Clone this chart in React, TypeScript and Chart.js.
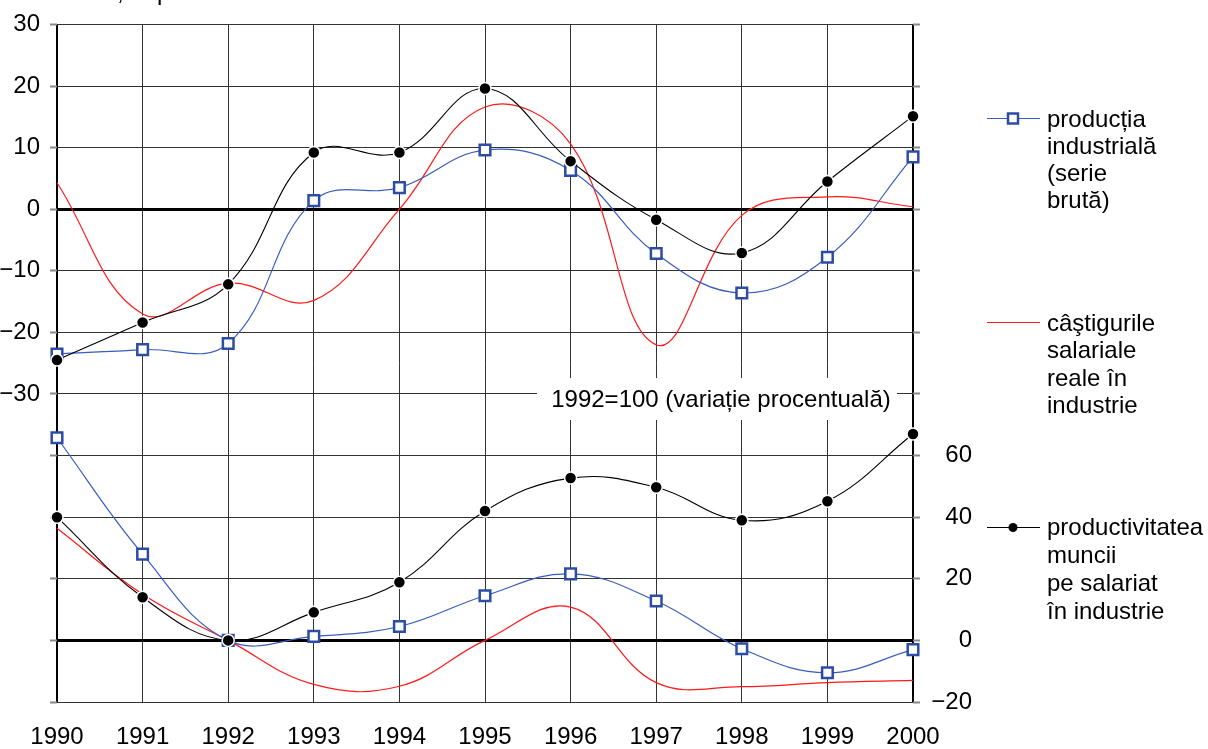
import React, { useEffect, useRef } from "react";
import { Chart, registerables } from "chart.js";

Chart.register(...registerables);

// ---- data ----
const years = ["1990", "1991", "1992", "1993", "1994", "1995", "1996", "1997", "1998", "1999", "2000"];

// upper panel: annual % change
const industrialTop = [-23.5, -22.8, -21.8, 1.4, 3.5, 9.6, 6.3, -7.2, -13.6, -7.8, 8.5];
const productivityTop = [-24.5, -18.4, -12.2, 9.2, 9.2, 19.6, 7.8, -1.7, -7.1, 4.5, 15.1];
const wagesTop = [4.3, -17.0, -12.0, -14.8, 0.0, 16.6, 10.6, -22.0, -1.0, 2.0, 0.4];

// lower panel: 1992 = 100 (% variation)
const industrialBottom = [65.8, 28.0, 0, 1.3, 4.5, 14.5, 21.6, 12.8, -2.7, -10.5, -3.0];
const productivityBottom = [40.0, 14.0, 0, 9.1, 18.9, 42.0, 52.7, 49.7, 39.0, 45.2, 67.0];
const wagesBottom = [36.4, 15.0, 0, -14.3, -14.9, 0.0, 10.8, -13.7, -15.0, -13.7, -13.0];

const leftTickMin = -30; // labels shown on the left axis from here up to 30
const rightTickLabels = [60, 40, 20, 0, -20]; // labels shown on the right axis

const legendIndustrial = ["producția", "industrială", "(serie", "brută)"];
const legendWages = ["câştigurile", "salariale", "reale în", "industrie"];
const legendProductivity = ["productivitatea", "muncii", "pe salariat", "în industrie"];
const panelNote = "1992=100 (variație procentuală)";
const topNotePrefix = "Modificare anuală";
const topNoteRest = ", în procente";

const FONT = '"Liberation Sans", Arial, Helvetica, sans-serif';
const BLUE_LINE = "#3A5CBF";
const BLUE_MARK = "#2C4CA6";
const RED = "#FF1A1A";

const fmt = (v: number) => (v < 0 ? "\u2212" + Math.abs(v) : String(v));

const decorPlugin = {
  id: "decor",
  beforeDatasetsDraw(chart: any) {
    const ctx = chart.ctx;
    ctx.save();
    ctx.fillStyle = "#fff";
    ctx.fillRect(537, 378, 360, 42);
    ctx.fillStyle = "#000";
    ctx.font = "24px " + FONT;
    ctx.textAlign = "center";
    ctx.textBaseline = "alphabetic";
    ctx.fillText(panelNote, 721, 406.5);
    ctx.restore();
  },
  afterDraw(chart: any) {
    const ctx = chart.ctx;
    ctx.save();
    ctx.font = "24px " + FONT;
    ctx.fillStyle = "#000";

    // right axis labels (through the library's scale)
    const y2 = chart.scales.y2;
    ctx.textAlign = "right";
    ctx.textBaseline = "middle";
    rightTickLabels.forEach((v) => {
      ctx.fillText(fmt(v), 972, y2.getPixelForValue(v));
    });

    ctx.textAlign = "left";
    ctx.textBaseline = "alphabetic";
    // clipped title at the very top
    const w = ctx.measureText(topNotePrefix).width;
    ctx.fillText(topNotePrefix + topNoteRest, 117 - w, 0);

    const drawLines = (lines: string[], baselines: number[]) => {
      lines.forEach((t, i) => ctx.fillText(t, 1047, baselines[i]));
    };
    // industrial production
    ctx.strokeStyle = BLUE_LINE;
    ctx.lineWidth = 1.2;
    ctx.beginPath();
    ctx.moveTo(987, 118.5);
    ctx.lineTo(1040, 118.5);
    ctx.stroke();
    ctx.fillStyle = "#fff";
    ctx.fillRect(1008, 113.5, 10, 10);
    ctx.strokeStyle = BLUE_MARK;
    ctx.lineWidth = 2.5;
    ctx.strokeRect(1008, 113.5, 10, 10);
    ctx.fillStyle = "#000";
    drawLines(legendIndustrial, [126.5, 153.5, 180.5, 207.5]);

    // wages
    ctx.strokeStyle = RED;
    ctx.lineWidth = 1.2;
    ctx.beginPath();
    ctx.moveTo(987, 322.5);
    ctx.lineTo(1040, 322.5);
    ctx.stroke();
    drawLines(legendWages, [331, 358, 385.5, 413]);

    // productivity
    ctx.strokeStyle = "#000";
    ctx.lineWidth = 1.2;
    ctx.beginPath();
    ctx.moveTo(987, 527.5);
    ctx.lineTo(1040, 527.5);
    ctx.stroke();
    ctx.beginPath();
    ctx.arc(1013, 527.5, 4.5, 0, Math.PI * 2);
    ctx.fill();
    drawLines(legendProductivity, [534.5, 562.5, 590.5, 618.5]);
    ctx.restore();
  },
};

export default function App() {
  const ref = useRef<HTMLCanvasElement | null>(null);

  useEffect(() => {
    document.body.style.margin = "0";
    const canvas = ref.current;
    if (!canvas) return;

    const black = (data: number[], axis: string) => ({
      data,
      yAxisID: axis,
      borderColor: "#000",
      borderWidth: 1.1,
      pointRadius: 6,
      pointBackgroundColor: "#000",
      pointBorderColor: "#fff",
      pointBorderWidth: 1.5,
      tension: 0.4,
      fill: false,
    });
    const blue = (data: number[], axis: string) => ({
      data,
      yAxisID: axis,
      borderColor: BLUE_LINE,
      borderWidth: 1.2,
      pointStyle: "rect",
      pointRadius: 7.5,
      pointBackgroundColor: "#fff",
      pointBorderColor: BLUE_MARK,
      pointBorderWidth: 2.5,
      tension: 0.4,
      fill: false,
    });
    const red = (data: number[], axis: string) => ({
      data,
      yAxisID: axis,
      borderColor: RED,
      borderWidth: 1.2,
      pointRadius: 0,
      tension: 0.4,
      fill: false,
    });

    const chart = new Chart(canvas, {
      type: "line",
      data: {
        labels: years,
        datasets: [
          black(productivityTop, "y"),
          black(productivityBottom, "y2"),
          blue(industrialTop, "y"),
          blue(industrialBottom, "y2"),
          red(wagesTop, "y"),
          red(wagesBottom, "y2"),
        ] as any,
      },
      options: {
        responsive: false,
        animation: false,
        devicePixelRatio: 1,
        layout: { padding: { top: 23, left: 0, right: 0, bottom: 0 } },
        plugins: { legend: { display: false }, tooltip: { enabled: false } },
        events: [],
        scales: {
          x: {
            type: "category",
            offset: false,
            afterFit: (s: any) => {
              s.height = 47;
            },
            border: { display: false },
            grid: {
              drawTicks: false,
              color: (c: any) => (c.index === 0 || c.index === years.length - 1 ? "#000" : "#333"),
              lineWidth: (c: any) => (c.index === 0 || c.index === years.length - 1 ? 2 : 1),
            },
            ticks: {
              color: "#000",
              font: { family: FONT, size: 24 },
              padding: 21,
              maxRotation: 0,
              autoSkip: false,
            },
          },
          y: {
            position: "left",
            min: -80,
            max: 30,
            afterFit: (s: any) => {
              s.width = 57;
            },
            border: { display: false },
            grid: {
              color: (c: any) => (c.tick.value === 0 || c.tick.value === -70 ? "#000" : "#333"),
              lineWidth: (c: any) => (c.tick.value === 0 || c.tick.value === -70 ? 3 : 1),
              tickColor: "#888",
              tickWidth: 2,
              tickLength: 7,
            },
            ticks: {
              stepSize: 10,
              padding: 10,
              color: "#000",
              font: { family: FONT, size: 24 },
              callback: (v: any) => (Number(v) >= leftTickMin ? fmt(Number(v)) : ""),
            },
          },
          y2: {
            position: "right",
            min: -20,
            max: 200,
            afterFit: (s: any) => {
              s.width = 295;
            },
            border: { display: false },
            grid: {
              drawOnChartArea: false,
              color: "#888",
              tickColor: "#888",
              tickWidth: 2,
              tickLength: 7,
            },
            ticks: {
              stepSize: 20,
              color: "#000",
              font: { family: FONT, size: 24 },
              callback: () => "",
            },
          },
        },
      } as any,
      plugins: [decorPlugin],
    });
    return () => chart.destroy();
  }, []);

  return (
    <div style={{ width: 1208, height: 749 }}>
      <canvas ref={ref} width={1208} height={749} style={{ display: "block" }} />
    </div>
  );
}
